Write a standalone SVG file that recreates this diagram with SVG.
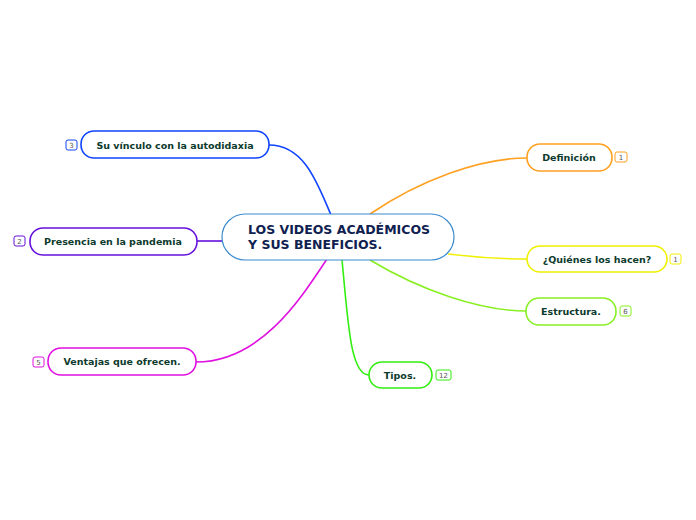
<svg xmlns="http://www.w3.org/2000/svg" width="696" height="520" viewBox="0 0 696 520">
<style>
.t{font-family:"DejaVu Sans",Verdana,sans-serif;font-weight:bold;font-size:9.5px;fill:#0c3a2c;text-anchor:middle}
.n{fill:#fff;stroke-width:1.6}
.b{fill:#fff;stroke-width:1}
.bt{font-family:"DejaVu Sans",sans-serif;font-size:7px;fill:#555;text-anchor:middle}
.c{fill:none;stroke-width:1.6}
</style>
<rect width="696" height="520" fill="#fff"/>
<g id="connectors">
<path class="c" stroke="#1144ff" d="M269,145 C305,145 318,185 331,215"/>
<path class="c" stroke="#6611dd" d="M197,241 L223,241"/>
<path class="c" stroke="#e010e0" d="M196,362 C260,362 300,300 327,259"/>
<path class="c" stroke="#ffa020" d="M370,214 C420,180 480,158 527,158"/>
<path class="c" stroke="#f0f000" d="M448,254 C480,258 500,259 527,259"/>
<path class="c" stroke="#88f022" d="M370,260 C420,290 480,311 526,311"/>
<path class="c" stroke="#33ee11" d="M342,260 C348,320 350,375 369,375"/>
</g>
<g id="central">
<rect x="222" y="214" width="232" height="46" rx="23" fill="#fff" stroke="#3a8ad0" stroke-width="1.2"/>
<text font-family="DejaVu Sans,Verdana,sans-serif" font-weight="bold" font-size="12.5" fill="#0f2150"><tspan x="248" y="234">LOS VIDEOS ACADÉMICOS</tspan><tspan x="248" y="249">Y SUS BENEFICIOS.</tspan></text>
</g>
<g id="n-vinculo">
<rect class="n" x="81" y="131" width="188" height="27" rx="13" stroke="#1144ff"/>
<text class="t" x="175" y="148.5">Su vínculo con la autodidaxia</text>
<rect class="b" x="66" y="140" width="11" height="10" rx="2" stroke="#1144ff"/>
<text class="bt" x="71.5" y="147.5">3</text>
</g>
<g id="n-presencia">
<rect class="n" x="30" y="228" width="167" height="27" rx="13" stroke="#6611dd"/>
<text class="t" x="113" y="244.5">Presencia en la pandemia</text>
<rect class="b" x="14" y="236" width="11" height="10" rx="2" stroke="#6611dd"/>
<text class="bt" x="19.5" y="243.5">2</text>
</g>
<g id="n-ventajas">
<rect class="n" x="48" y="348" width="148" height="27" rx="13" stroke="#e010e0"/>
<text class="t" x="122" y="364.5">Ventajas que ofrecen.</text>
<rect class="b" x="33" y="357" width="11" height="10" rx="2" stroke="#e010e0"/>
<text class="bt" x="38.5" y="364.5">5</text>
</g>
<g id="n-definicion">
<rect class="n" x="527" y="144" width="85" height="27" rx="13" stroke="#ffa020"/>
<text class="t" x="569" y="160.5">Definición</text>
<rect class="b" x="615" y="152" width="12" height="10" rx="2" stroke="#ffa020"/>
<text class="bt" x="621" y="159.5">1</text>
</g>
<g id="n-quienes">
<rect class="n" x="527" y="246" width="140" height="26" rx="13" stroke="#f0f000"/>
<text class="t" x="597" y="262.5">¿Quiénes los hacen?</text>
<rect class="b" x="670" y="254" width="11" height="10" rx="2" stroke="#f0f000"/>
<text class="bt" x="675.5" y="261.5">1</text>
</g>
<g id="n-estructura">
<rect class="n" x="526" y="298" width="90" height="27" rx="13" stroke="#88f022"/>
<text class="t" x="571" y="314.5">Estructura.</text>
<rect class="b" x="620" y="306" width="11" height="10" rx="2" stroke="#88f022"/>
<text class="bt" x="625.5" y="313.5">6</text>
</g>
<g id="n-tipos">
<rect class="n" x="369" y="362" width="63" height="26" rx="13" stroke="#33ee11"/>
<text class="t" x="400" y="378.5">Tipos.</text>
<rect class="b" x="436" y="370" width="15" height="10" rx="2" stroke="#33ee11"/>
<text class="bt" x="443.5" y="377.5">12</text>
</g>
</svg>
